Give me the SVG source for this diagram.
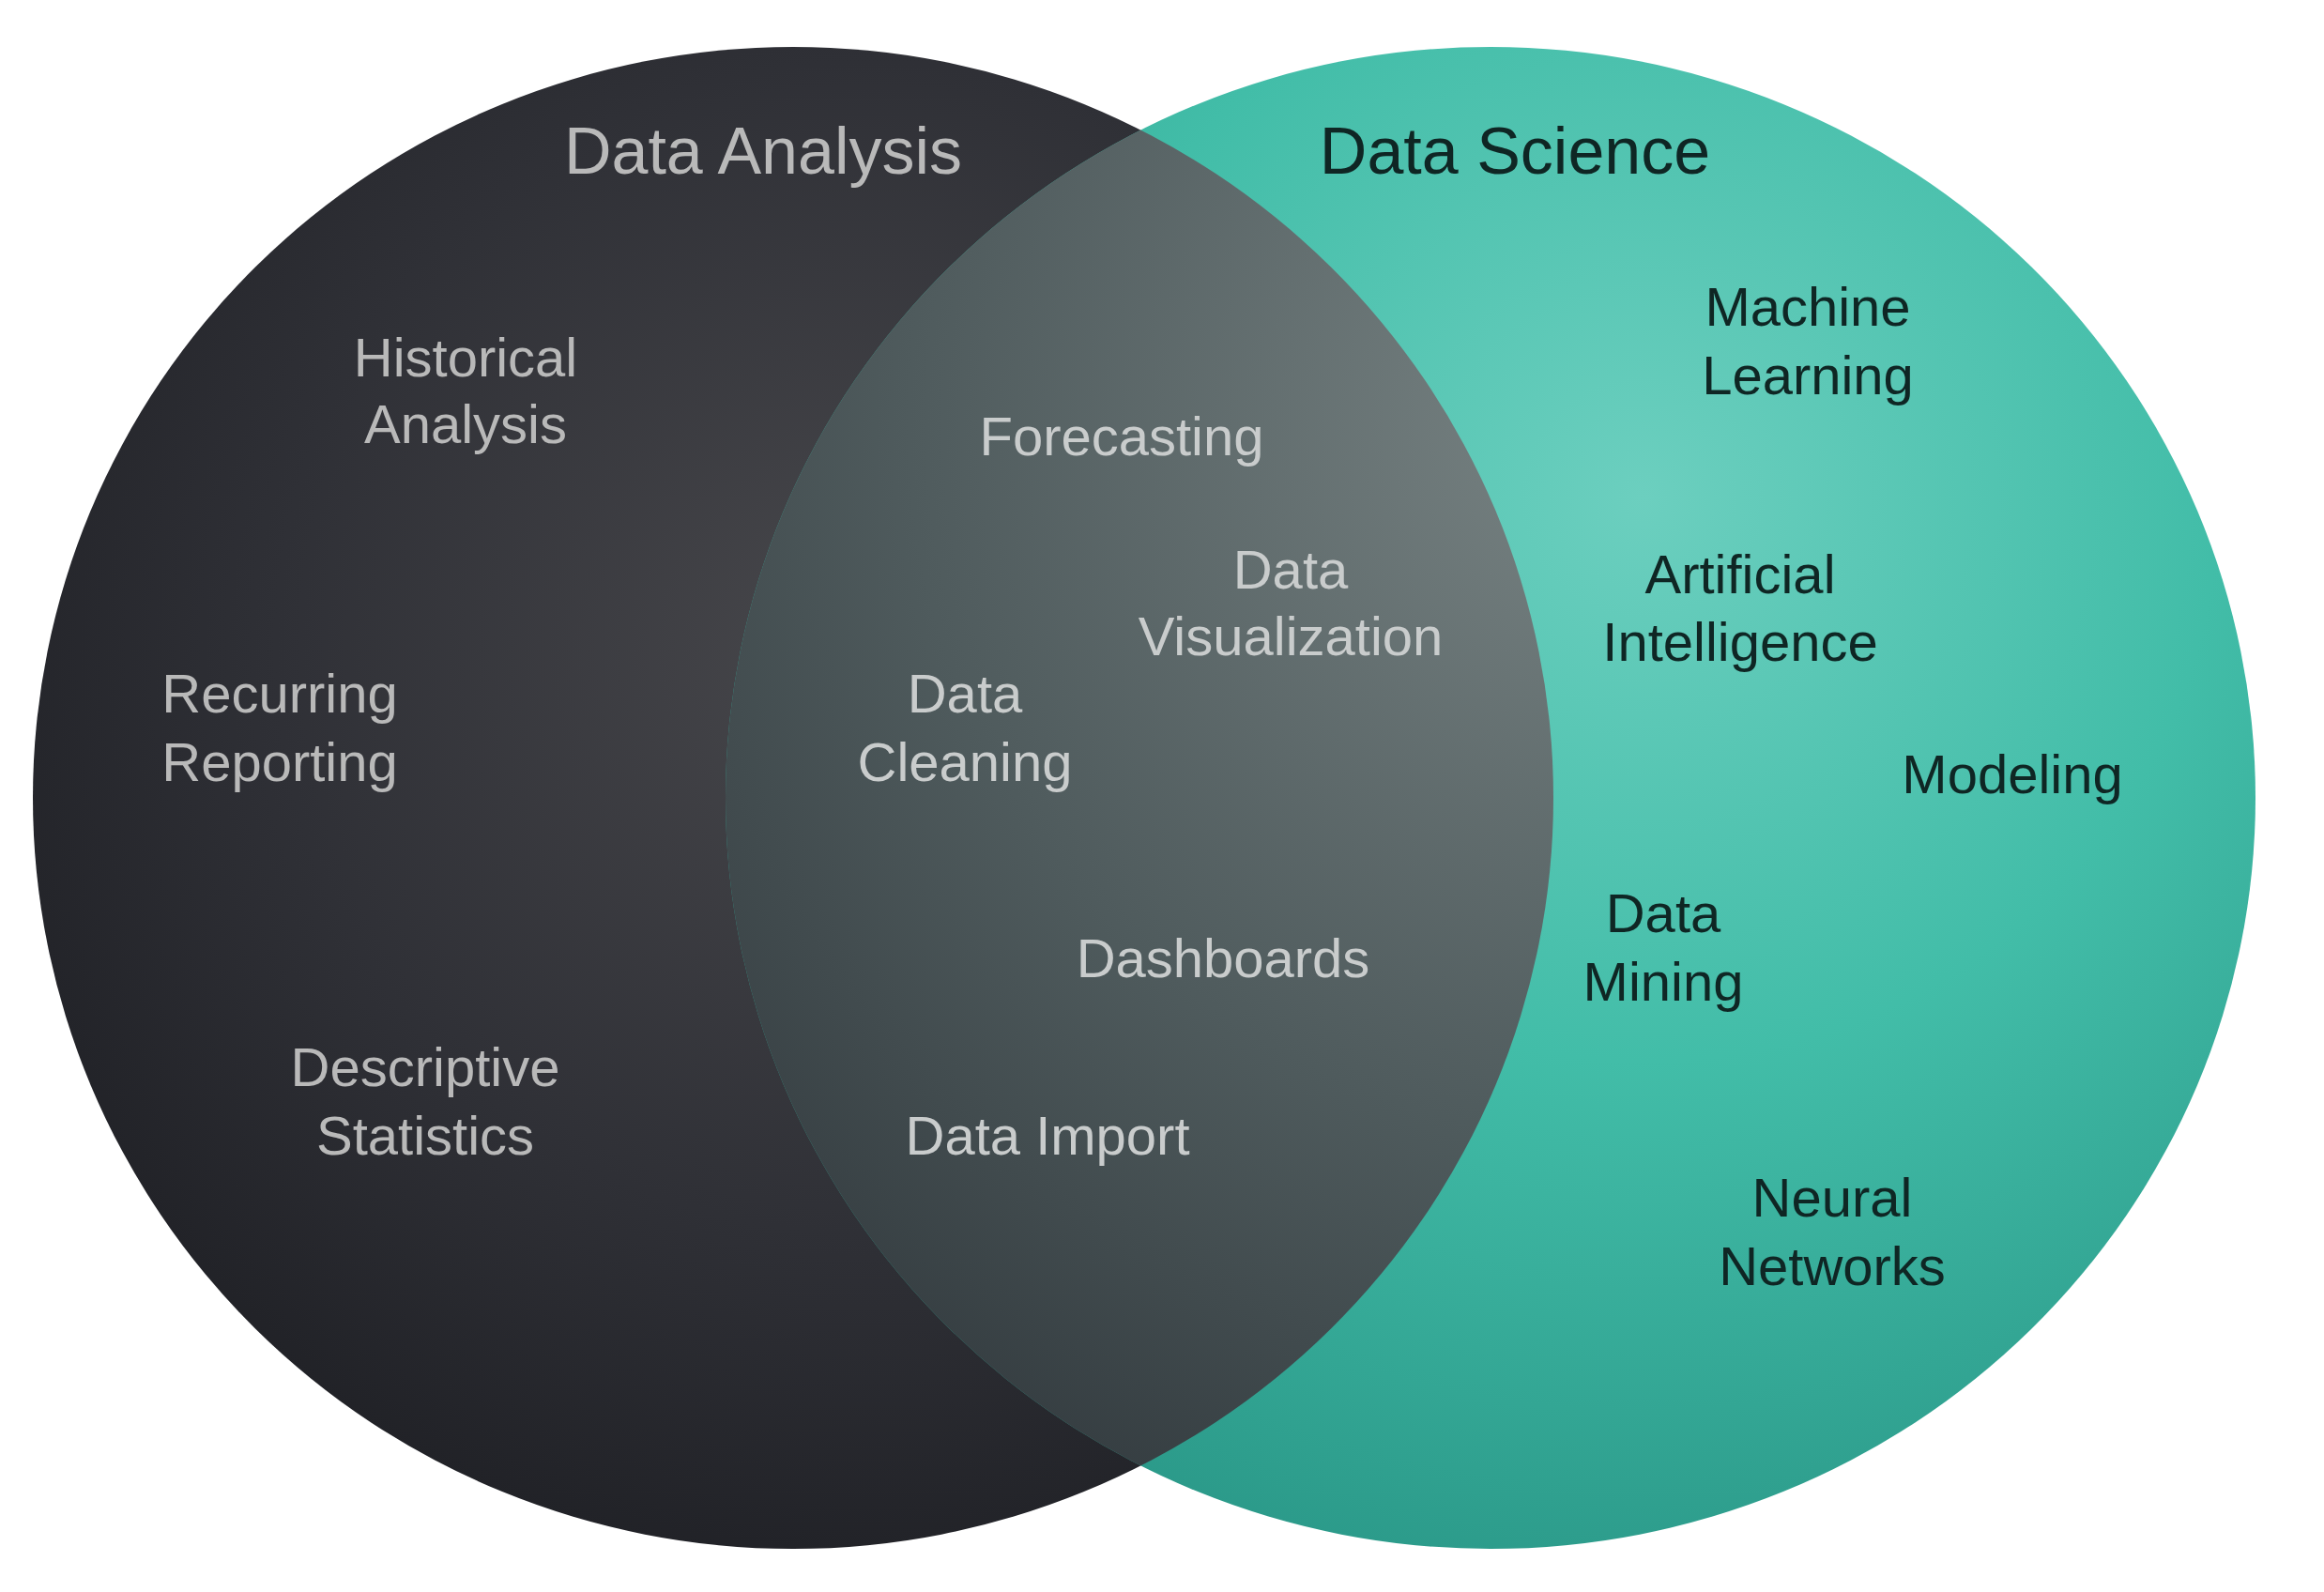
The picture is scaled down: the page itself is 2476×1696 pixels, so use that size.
<svg xmlns="http://www.w3.org/2000/svg" width="2476" height="1696" viewBox="0 0 2476 1696">
<style>
.t{font-family:"Liberation Sans",Arial,sans-serif;font-size:58px;text-anchor:middle}
.l{fill:#b9b9b9}.m{fill:#c9cccc}.r{fill:#0f2624}
.h{font-size:70px}
</style>
<defs>
<radialGradient id="gl" cx="0.55" cy="0.4" r="0.65">
<stop offset="0" stop-color="#48484c"/><stop offset="0.6" stop-color="#2f3036"/><stop offset="1" stop-color="#1f2025"/>
</radialGradient>
<radialGradient id="gr" cx="0.6" cy="0.3" r="0.75">
<stop offset="0" stop-color="#6ccfbf"/><stop offset="0.5" stop-color="#42bda8"/><stop offset="1" stop-color="#2a9888"/>
</radialGradient>
<radialGradient id="gm" cx="0.6" cy="0.25" r="0.8">
<stop offset="0" stop-color="#7a8585"/><stop offset="0.6" stop-color="#4f5b5d"/><stop offset="1" stop-color="#343c40"/>
</radialGradient>
<clipPath id="cl"><ellipse cx="845" cy="850" rx="810" ry="800"/></clipPath>
</defs>
<rect width="2476" height="1696" fill="#ffffff"/>
<g id="left"><ellipse cx="845" cy="850" rx="810" ry="800" fill="url(#gl)"/></g>
<g id="right"><ellipse cx="1588" cy="850" rx="815" ry="800" fill="url(#gr)"/></g>
<g id="overlap"><ellipse cx="1588" cy="850" rx="815" ry="800" fill="url(#gm)" clip-path="url(#cl)"/></g>
<g id="labels">
<text class="t h l" x="813" y="185">Data Analysis</text>
<text class="t h r" x="1614" y="185">Data Science</text>
<text class="t l" x="496" y="401">Historical</text><text class="t l" x="496" y="472">Analysis</text>
<text class="t l" x="298" y="759">Recurring</text><text class="t l" x="298" y="832">Reporting</text>
<text class="t l" x="453" y="1157">Descriptive</text><text class="t l" x="453" y="1230">Statistics</text>
<text class="t m" x="1195" y="485">Forecasting</text>
<text class="t m" x="1375" y="627">Data</text><text class="t m" x="1375" y="698">Visualization</text>
<text class="t m" x="1028" y="759">Data</text><text class="t m" x="1028" y="832">Cleaning</text>
<text class="t m" x="1303" y="1041">Dashboards</text>
<text class="t m" x="1116" y="1230">Data Import</text>
<text class="t r" x="1926" y="347">Machine</text><text class="t r" x="1926" y="420">Learning</text>
<text class="t r" x="1854" y="632">Artificial</text><text class="t r" x="1854" y="704">Intelligence</text>
<text class="t r" x="2144" y="845">Modeling</text>
<text class="t r" x="1772" y="993">Data</text><text class="t r" x="1772" y="1066">Mining</text>
<text class="t r" x="1952" y="1296">Neural</text><text class="t r" x="1952" y="1369">Networks</text>
</g>
</svg>
